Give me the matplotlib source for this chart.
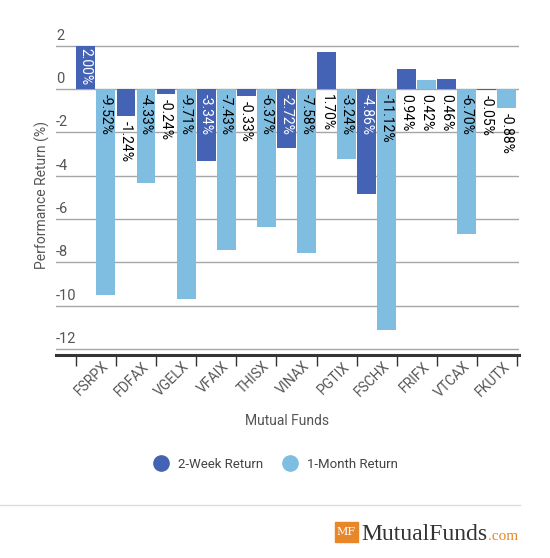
import matplotlib.pyplot as plt
import matplotlib.transforms as mtransforms
from matplotlib.lines import Line2D
import numpy as np

funds = ["FSRPX", "FDFAX", "VGELX", "VFAIX", "THISX", "VINAX",
         "PGTIX", "FSCHX", "FRIFX", "VTCAX", "FKUTX"]
two_week = [2.00, -1.24, -0.24, -3.34, -0.33, -2.72, 1.70, -4.86, 0.94, 0.46, -0.05]
one_month = [-9.52, -4.33, -9.71, -7.43, -6.37, -7.58, -3.24, -11.12, 0.42, -6.70, -0.88]
yticks = [-12, -10, -8, -6, -4, -2, 0, 2]

plt.rcParams['font.family'] = ['Roboto', 'DejaVu Sans']

dark = '#4563b4'
light = '#7fbde1'

W, H = 550, 558
fig = plt.figure(figsize=(W / 100, H / 100), dpi=100)
ax = fig.add_axes([56 / W, (H - 355) / H, (519 - 56) / W, (355 - 35) / H])

x = np.arange(len(funds))
bw = 0.47
bars1 = ax.bar(x + 0.245, two_week, bw, color=dark, zorder=3)
bars2 = ax.bar(x + 0.745, one_month, bw, color=light, zorder=3)

ax.set_xlim(-0.5, 11.05)
ax.set_ylim(-12.28, 2.5)

LBL = 10


def add_labels(bars, vals, inside_color):
    for rect, v in zip(bars, vals):
        cx = rect.get_x() + rect.get_width() / 2
        txt = f"{v:.2f}%"
        if abs(v) >= 1.9:
            if v > 0:
                ax.annotate(txt, (cx, 0), xytext=(0, 4), textcoords='offset pixels',
                            rotation=270, ha='center', va='bottom',
                            color=inside_color, fontsize=LBL, zorder=4)
            else:
                ax.annotate(txt, (cx, 0), xytext=(0, -5), textcoords='offset pixels',
                            rotation=270, ha='center', va='top',
                            color=inside_color, fontsize=LBL, zorder=4)
        else:
            anchor = 0 if v > 0 else v
            ax.annotate(txt, (cx, anchor), xytext=(0, -5), textcoords='offset pixels',
                        rotation=270, ha='center', va='top',
                        color='black', fontsize=LBL, zorder=4)


add_labels(bars1, two_week, 'white')
add_labels(bars2, one_month, 'black')

# y grid + labels sitting above the lines
ax.set_yticks(yticks)
ax.yaxis.grid(True, color='#a6a6a6', lw=1, zorder=0)
ax.tick_params(axis='y', length=0, labelleft=False)
trans = mtransforms.blended_transform_factory(ax.transAxes, ax.transData)
for t in yticks:
    ax.annotate(str(t), (0, t), xycoords=trans, xytext=(0, 3), textcoords='offset pixels',
                ha='left', va='bottom', fontsize=10.5, color='#555555')

# x ticks at category boundaries, labels at centers
ax.set_xticks(x + 0.5)
ax.set_xticklabels(funds, rotation=45, ha='right', va='top', rotation_mode='anchor',
                   fontsize=10, color='#555555')
ax.tick_params(axis='x', which='major', length=0, pad=3)
ax.set_xticks(np.arange(len(funds) + 1), minor=True)
ax.tick_params(axis='x', which='minor', length=8, width=1, color='#333333')
for lbl in ax.get_xticklabels():
    lbl.set_transform(lbl.get_transform() + mtransforms.Affine2D().translate(6, 0))

for s in ['top', 'right', 'left']:
    ax.spines[s].set_visible(False)
ax.spines['bottom'].set_linewidth(2.2)
ax.spines['bottom'].set_color('#333333')
ax.spines['bottom'].set_zorder(5)

ax.set_ylabel('Performance Return (%)', fontsize=10, color='#555555', labelpad=4)
ax.set_xlabel('Mutual Funds', fontsize=10, color='#555555', labelpad=10)

handles = [Line2D([], [], marker='o', ls='', color=dark, markersize=11),
           Line2D([], [], marker='o', ls='', color=light, markersize=11)]
fig.legend(handles, ['2-Week Return', '1-Month Return'], ncol=2,
           loc='center', bbox_to_anchor=(273 / W, 1 - 464 / H), frameon=False,
           fontsize=9.5, labelcolor='#444444', handletextpad=0.3, columnspacing=1.0)

# footer separator and logo
fig.add_artist(Line2D([0, 520 / W], [1 - 505 / H, 1 - 505 / H], color='#dddddd', lw=1))
fig.patches.append(plt.Rectangle((335 / W, 1 - 542 / H), 23 / W, 20 / H,
                                 transform=fig.transFigure, color='#e8862a'))
fig.text(346.5 / W, 1 - 532 / H, 'MF', ha='center', va='center', color='white',
         fontsize=8, family='DejaVu Serif')
brand = fig.text(361 / W, 1 - 540 / H, 'MutualFunds', ha='left', va='baseline',
                 color='#333333', fontsize=17, family='Liberation Serif')
fig.canvas.draw()
bb = brand.get_window_extent()
fig.text((bb.x1 + 1) / W, 1 - 540 / H, '.com', ha='left', va='baseline', color='#e8862a',
         fontsize=11, family='Liberation Serif')

fig.savefig('out.png', dpi=100, facecolor='white')
